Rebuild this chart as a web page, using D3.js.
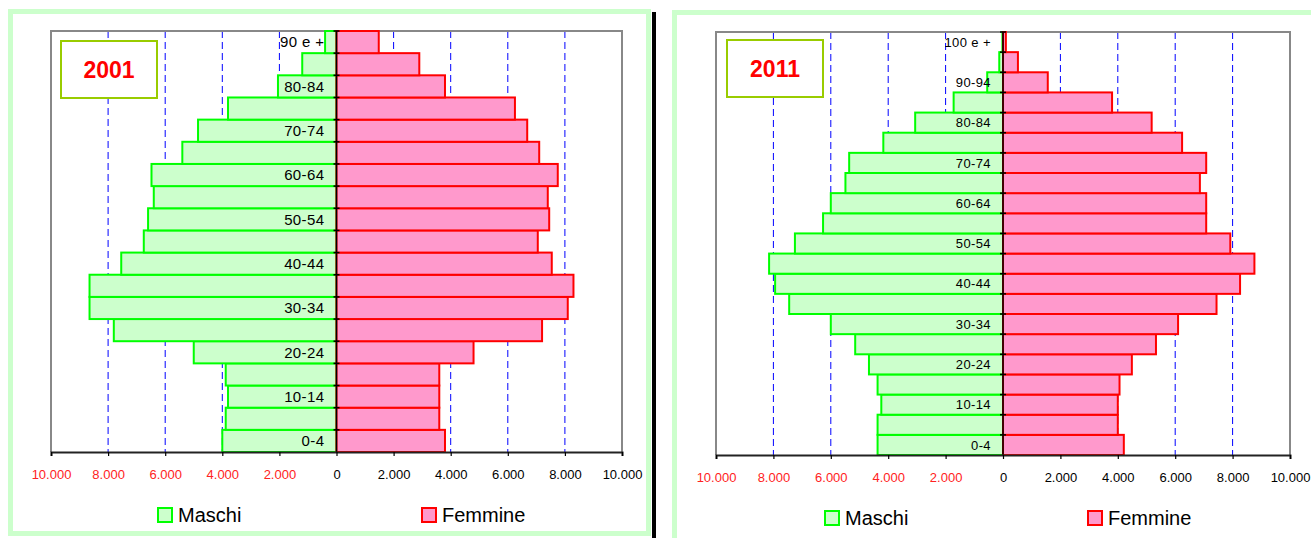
<!DOCTYPE html>
<html>
<head>
<meta charset="utf-8">
<script src="https://cdn.jsdelivr.net/npm/d3@7"></script>
<style>
  html, body { margin: 0; padding: 0; background: #fff; }
  svg { display: block; font-family: Arial, "Liberation Sans", sans-serif; }
</style>
</head>
<body>
<svg id="chart" width="1311" height="538"></svg>
<script>
// ---------- DATA ----------
const categories2001 = ["0-4","5-9","10-14","15-19","20-24","25-29","30-34","35-39","40-44","45-49",
  "50-54","55-59","60-64","65-69","70-74","75-79","80-84","85-89","90 e +"];
const maschi2001 = [4000,3880,3800,3880,5000,7800,8650,8650,7540,6750,
  6600,6400,6480,5400,4850,3800,2050,1200,400];
const femmine2001 = [3800,3600,3600,3600,4800,7200,8100,8300,7540,7050,
  7450,7400,7750,7100,6680,6250,3800,2900,1480];

const categories2011 = ["0-4","5-9","10-14","15-19","20-24","25-29","30-34","35-39","40-44","45-49",
  "50-54","55-59","60-64","65-69","70-74","75-79","80-84","85-89","90-94","95-99","100 e +"];
const maschi2011 = [4370,4370,4240,4370,4670,5150,6000,7450,7940,8150,
  7250,6270,6000,5490,5360,4170,3060,1720,550,130,20];
const femmine2011 = [4210,4000,4000,4060,4490,5330,6100,7440,8260,8760,
  7920,7080,7080,6860,7080,6240,5180,3800,1560,520,100];

const xTicks = [-10000,-8000,-6000,-4000,-2000,0,2000,4000,6000,8000,10000];
const gridTicks = [-8000,-6000,-4000,-2000,2000,4000,6000,8000];
const seriesNames = ["Maschi","Femmine"];
const years = ["2001","2011"];

// ---------- DRAW ----------
const svg = d3.select("#chart");
const fmt = v => Math.abs(v) === 0 ? "0" : d3.format(",")(Math.abs(v)).replace(/,/g, ".");

// outer frames and separator
svg.append("rect").attr("x", 10.5).attr("y", 11.5).attr("width", 638).attr("height", 522)
  .attr("fill", "none").attr("stroke", "#ccffcc").attr("stroke-width", 5);
svg.append("rect").attr("x", 674.5).attr("y", 12.5).attr("width", 700).attr("height", 600)
  .attr("fill", "none").attr("stroke", "#ccffcc").attr("stroke-width", 5);
svg.append("rect").attr("x", 652).attr("y", 12).attr("width", 4).attr("height", 530).attr("fill", "#000");

function pyramid(opt) {
  const g = svg.append("g");
  const x = d3.scaleLinear().domain([-10000, 10000]).range([opt.left, opt.right]);
  const y = d3.scaleBand().domain(opt.cats.slice().reverse()).range([opt.top, opt.bottom]).padding(0);
  const x0 = x(0);

  // gridlines
  g.selectAll(".grid").data(gridTicks).join("line")
    .attr("x1", d => x(d)).attr("x2", d => x(d))
    .attr("y1", opt.top).attr("y2", opt.bottom)
    .attr("stroke", "#0000ff").attr("stroke-width", 1).attr("stroke-dasharray", "7,4");

  // plot border (gray)
  g.append("path")
    .attr("d", `M${opt.left},${opt.bottom} V${opt.top} H${opt.right} V${opt.bottom}`)
    .attr("fill", "none").attr("stroke", "#888").attr("stroke-width", 2);

  // year box
  g.append("rect").attr("x", opt.box[0]).attr("y", opt.box[1]).attr("width", opt.box[2]).attr("height", opt.box[3])
    .attr("fill", "#fff").attr("stroke", "#99cc00").attr("stroke-width", 2);
  g.append("text").attr("x", opt.box[0] + opt.box[2] / 2).attr("y", opt.box[1] + opt.box[3] / 2 + 8)
    .attr("text-anchor", "middle").attr("font-weight", "bold").attr("font-size", 23)
    .attr("fill", "#ff0000").text(opt.year);

  // bars
  const bh = y.bandwidth();
  g.selectAll(".m").data(opt.cats.map((c, i) => ({c, v: opt.m[i]}))).join("rect")
    .attr("x", d => x(-d.v)).attr("width", d => x0 - x(-d.v))
    .attr("y", d => y(d.c)).attr("height", bh)
    .attr("fill", "#ccffcc").attr("stroke", "#00ff00").attr("stroke-width", 2);
  g.selectAll(".f").data(opt.cats.map((c, i) => ({c, v: opt.f[i]}))).join("rect")
    .attr("x", x0).attr("width", d => x(d.v) - x0)
    .attr("y", d => y(d.c)).attr("height", bh)
    .attr("fill", "#ff99cc").attr("stroke", "#ff0000").attr("stroke-width", 2);

  // category axis (zero line + ticks)
  g.append("line").attr("x1", x0).attr("x2", x0).attr("y1", opt.top).attr("y2", opt.bottom)
    .attr("stroke", "#000").attr("stroke-width", 1.5);
  const bounds = opt.cats.map(c => y(c));
  g.selectAll(".ct").data(bounds).join("line")
    .attr("x1", x0 - 3).attr("x2", x0 + 3).attr("y1", d => d).attr("y2", d => d)
    .attr("stroke", "#000").attr("stroke-width", 1.5);

  // category labels (every other)
  g.selectAll(".cl").data(opt.cats.filter((c, i) => i % 2 === 0)).join("text")
    .attr("x", x0 - 12).attr("y", d => y(d) + bh / 2 + opt.catFont * 0.36)
    .attr("text-anchor", "end").attr("font-size", opt.catFont).attr("letter-spacing", 0.4)
    .attr("fill", "#000").text(d => d);

  // bottom axis
  const axis = g.append("g").attr("transform", `translate(0,${opt.bottom})`)
    .call(d3.axisBottom(x).tickValues(xTicks).tickFormat(fmt).tickSize(4).tickPadding(14));
  axis.select(".domain").attr("stroke", "#222").attr("stroke-width", 2);
  axis.selectAll(".tick line").attr("stroke", "#000").attr("stroke-width", 1.2);
  axis.selectAll(".tick text").attr("font-size", 13)
    .attr("font-family", "Arial, 'Liberation Sans', sans-serif")
    .attr("fill", d => d < 0 ? "#ff2222" : "#000");

  // legend
  const lg = g.append("g");
  const items = [
    {name: seriesNames[0], fill: "#ccffcc", stroke: "#00ff00", x: opt.leg[0]},
    {name: seriesNames[1], fill: "#ff99cc", stroke: "#ff0000", x: opt.leg[1]}
  ];
  items.forEach(it => {
    lg.append("rect").attr("x", it.x).attr("y", opt.legY - 7).attr("width", 14).attr("height", 14)
      .attr("fill", it.fill).attr("stroke", it.stroke).attr("stroke-width", 2);
    lg.append("text").attr("x", it.x + 20).attr("y", opt.legY + 7)
      .attr("font-size", 20).attr("fill", "#000").text(it.name);
  });
}

pyramid({
  cats: categories2001, m: maschi2001, f: femmine2001, year: years[0],
  left: 51, right: 622, top: 31, bottom: 452,
  box: [61, 41, 96, 57], catFont: 15, leg: [158, 422], legY: 515
});
pyramid({
  cats: categories2011, m: maschi2011, f: femmine2011, year: years[1],
  left: 716, right: 1290, top: 32, bottom: 455,
  box: [727, 40, 96, 57], catFont: 13, leg: [825, 1088], legY: 518
});
</script>
</body>
</html>
